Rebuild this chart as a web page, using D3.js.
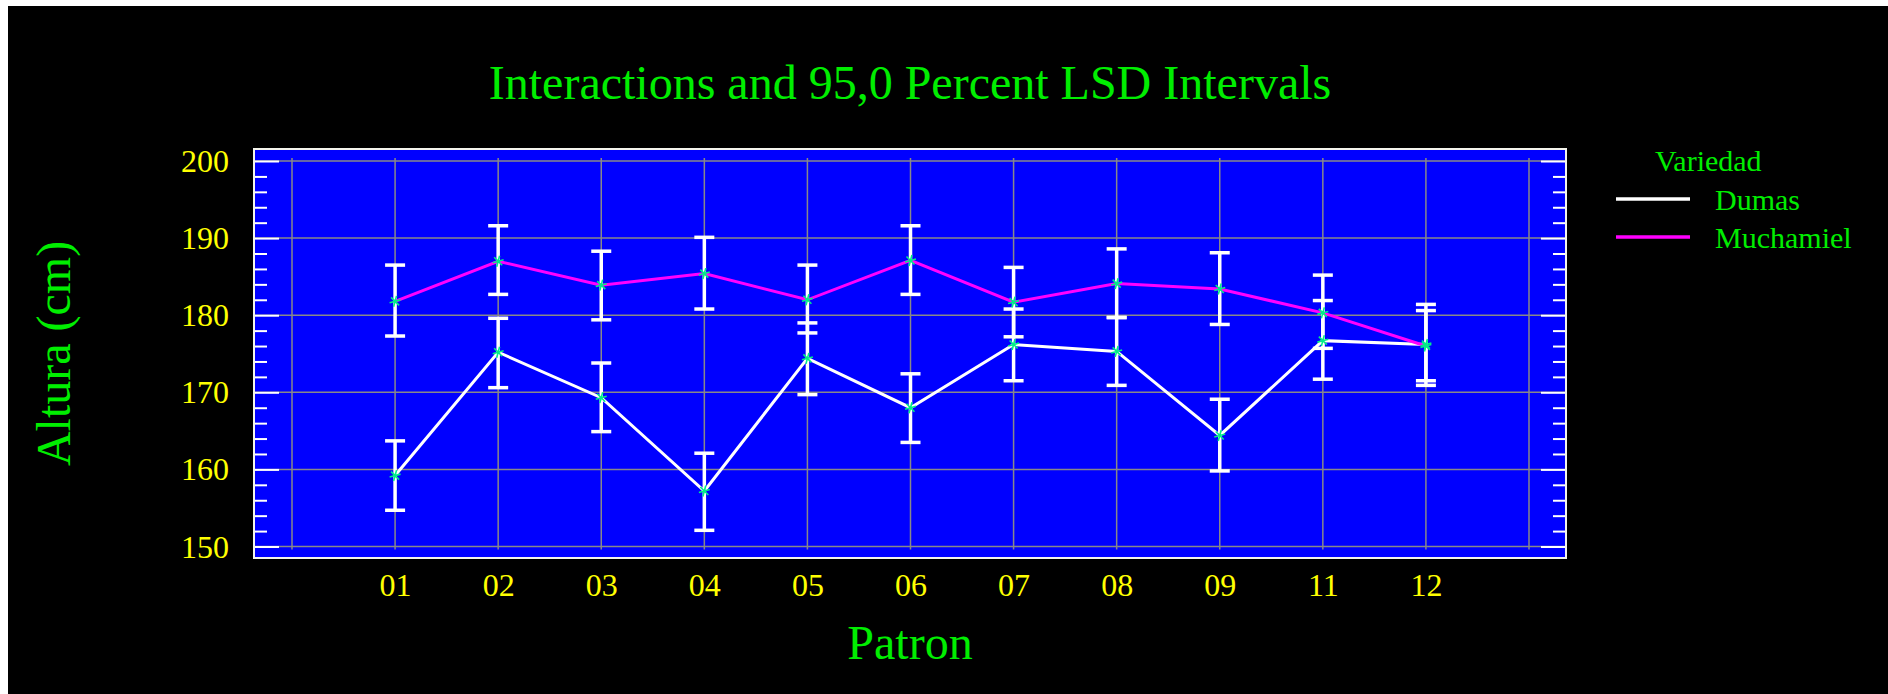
<!DOCTYPE html>
<html>
<head>
<meta charset="utf-8">
<script src="https://cdn.jsdelivr.net/npm/d3@7"></script>
<style>
  html, body { margin: 0; padding: 0; background: #ffffff; }
  svg { display: block; }
  text { font-family: "Liberation Serif", "Times New Roman", serif; }
</style>
</head>
<body>
<svg id="chart" width="1888" height="694"></svg>
<script>
// Patron levels on the horizontal axis
const patron = ["01", "02", "03", "04", "05", "06", "07", "08", "09", "11", "12"];

// Dumas: means and 95% LSD interval limits
const dumasMean = [159.2, 175.2, 169.3, 157.2, 174.4, 168.0, 176.2, 175.3, 164.4, 176.7, 176.2];
const dumasLow  = [154.7, 170.6, 164.9, 152.1, 169.7, 163.5, 171.5, 170.9, 159.8, 171.7, 171.5];
const dumasHigh = [163.7, 179.6, 173.8, 162.1, 179.0, 172.4, 180.8, 179.7, 169.1, 181.9, 180.6];

// Muchamiel: means and 95% LSD interval limits
const muchMean = [181.8, 187.0, 183.9, 185.4, 182.0, 187.1, 181.7, 184.1, 183.4, 180.3, 176.0];
const muchLow  = [177.3, 182.7, 179.4, 180.8, 177.7, 182.7, 177.2, 179.7, 178.8, 175.7, 170.9];
const muchHigh = [186.5, 191.6, 188.3, 190.1, 186.5, 191.6, 186.2, 188.6, 188.1, 185.2, 181.4];

const yTicks = [150, 160, 170, 180, 190, 200];
const yMinorTicks = d3.range(150, 201, 2).filter(v => v % 10 !== 0);

const seriesNames = ["Dumas", "Muchamiel"];
const seriesColors = ["#ffffff", "#ff00ff"];

const svg = d3.select("#chart");

// background: black panel with a thin white margin at top/left
svg.append("rect").attr("x", 0).attr("y", 0).attr("width", 1888).attr("height", 694).attr("fill", "#ffffff");
svg.append("rect").attr("x", 8).attr("y", 6).attr("width", 1880).attr("height", 688).attr("fill", "#000000");

const plot = { x0: 254, x1: 1566, y0: 149, y1: 558 };

const x = d3.scaleLinear().domain([0, patron.length + 1]).range([plot.x0 + 38, plot.x1 - 37]);
const y = d3.scaleLinear().domain([150, 200]).range([546.5, 161]);

// plot area
svg.append("rect")
  .attr("x", plot.x0).attr("y", plot.y0)
  .attr("width", plot.x1 - plot.x0).attr("height", plot.y1 - plot.y0)
  .attr("fill", "#0000ff");

const grid = svg.append("g").attr("stroke", "#888888").attr("stroke-width", 1.5);
grid.selectAll("line.h").data(yTicks).join("line")
  .attr("x1", plot.x0).attr("x2", plot.x1)
  .attr("y1", d => y(d)).attr("y2", d => y(d));
grid.selectAll("line.v").data(d3.range(0, patron.length + 2)).join("line")
  .attr("x1", d => x(d)).attr("x2", d => x(d))
  .attr("y1", y(200) - 3).attr("y2", y(150) + 3);

// inward ticks on both vertical sides
function tickAxis(axisGen, xPos, values, size) {
  const g = svg.append("g")
    .attr("transform", `translate(${xPos},0)`)
    .call(axisGen(y).tickValues(values).tickSize(size).tickFormat(""));
  g.select(".domain").remove();
  g.selectAll(".tick line").attr("stroke", "#ffffff").attr("stroke-width", 2);
}
tickAxis(d3.axisRight, plot.x0, yTicks, 25);
tickAxis(d3.axisRight, plot.x0, yMinorTicks, 13);
tickAxis(d3.axisLeft, plot.x1, yTicks, 25);
tickAxis(d3.axisLeft, plot.x1, yMinorTicks, 13);

// frame
svg.append("rect")
  .attr("x", plot.x0).attr("y", plot.y0)
  .attr("width", plot.x1 - plot.x0).attr("height", plot.y1 - plot.y0)
  .attr("fill", "none").attr("stroke", "#f4f4ec").attr("stroke-width", 2);

// y tick labels
const yAxis = svg.append("g")
  .attr("transform", `translate(${plot.x0},0)`)
  .call(d3.axisLeft(y).tickValues(yTicks).tickSize(0).tickPadding(25));
yAxis.select(".domain").remove();
yAxis.selectAll("text")
  .attr("fill", "#ffff00").attr("font-size", 32)
  .attr("font-family", "Liberation Serif").attr("dy", "0.33em");

// x tick labels
const xAxis = svg.append("g")
  .attr("transform", `translate(0,${plot.y1})`)
  .call(d3.axisBottom(x).tickValues(d3.range(1, patron.length + 1))
    .tickFormat(i => patron[i - 1]).tickSize(0).tickPadding(15));
xAxis.select(".domain").remove();
xAxis.selectAll("text")
  .attr("fill", "#ffff00").attr("font-size", 32)
  .attr("font-family", "Liberation Serif");

const series = [
  { name: "Dumas", mean: dumasMean, low: dumasLow, high: dumasHigh, color: seriesColors[0] },
  { name: "Muchamiel", mean: muchMean, low: muchLow, high: muchHigh, color: seriesColors[1] }
];

// LSD interval bars
const capHalf = 10;
series.forEach(s => {
  const g = svg.append("g").attr("stroke", "#ffffff").attr("stroke-width", 3.5);
  patron.forEach((p, i) => {
    const cx = x(i + 1);
    g.append("line").attr("x1", cx).attr("x2", cx).attr("y1", y(s.low[i])).attr("y2", y(s.high[i]));
    g.append("line").attr("x1", cx - capHalf).attr("x2", cx + capHalf).attr("y1", y(s.low[i])).attr("y2", y(s.low[i]));
    g.append("line").attr("x1", cx - capHalf).attr("x2", cx + capHalf).attr("y1", y(s.high[i])).attr("y2", y(s.high[i]));
  });
});

// mean lines
const line = d3.line().x((d, i) => x(i + 1)).y(d => y(d));
series.forEach(s => {
  svg.append("path").datum(s.mean)
    .attr("d", line)
    .attr("fill", "none")
    .attr("stroke", s.color)
    .attr("stroke-width", 3);
});

// mean markers
const marker = d3.symbol().type(d3.symbolAsterisk).size(90);
series.forEach(s => {
  svg.append("g").selectAll("path").data(s.mean).join("path")
    .attr("transform", (d, i) => `translate(${x(i + 1)},${y(d)}) rotate(15)`)
    .attr("d", marker)
    .attr("fill", "none")
    .attr("stroke", "#00ee88")
    .attr("stroke-width", 1.6);
});

// titles
svg.append("text")
  .attr("x", (plot.x0 + plot.x1) / 2).attr("y", 99)
  .attr("text-anchor", "middle").attr("font-size", 48).attr("fill", "#00ee00")
  .text("Interactions and 95,0 Percent LSD Intervals");

svg.append("text")
  .attr("x", (plot.x0 + plot.x1) / 2).attr("y", 659)
  .attr("text-anchor", "middle").attr("font-size", 48).attr("fill", "#00ee00")
  .text("Patron");

svg.append("text")
  .attr("transform", `translate(70,${(plot.y0 + plot.y1) / 2}) rotate(-90)`)
  .attr("text-anchor", "middle").attr("font-size", 48).attr("fill", "#00ee00")
  .text("Altura (cm)");

// legend
const legend = svg.append("g");
legend.append("text")
  .attr("x", 1655).attr("y", 171)
  .attr("font-size", 30).attr("fill", "#00ee00")
  .text("Variedad");
seriesNames.forEach((n, i) => {
  const ly = 199 + i * 38;
  legend.append("line")
    .attr("x1", 1616).attr("x2", 1690).attr("y1", ly).attr("y2", ly)
    .attr("stroke", seriesColors[i]).attr("stroke-width", 3.5);
  legend.append("text")
    .attr("x", 1715).attr("y", ly + 11)
    .attr("font-size", 30).attr("fill", "#00ee00")
    .text(n);
});
</script>
</body>
</html>
